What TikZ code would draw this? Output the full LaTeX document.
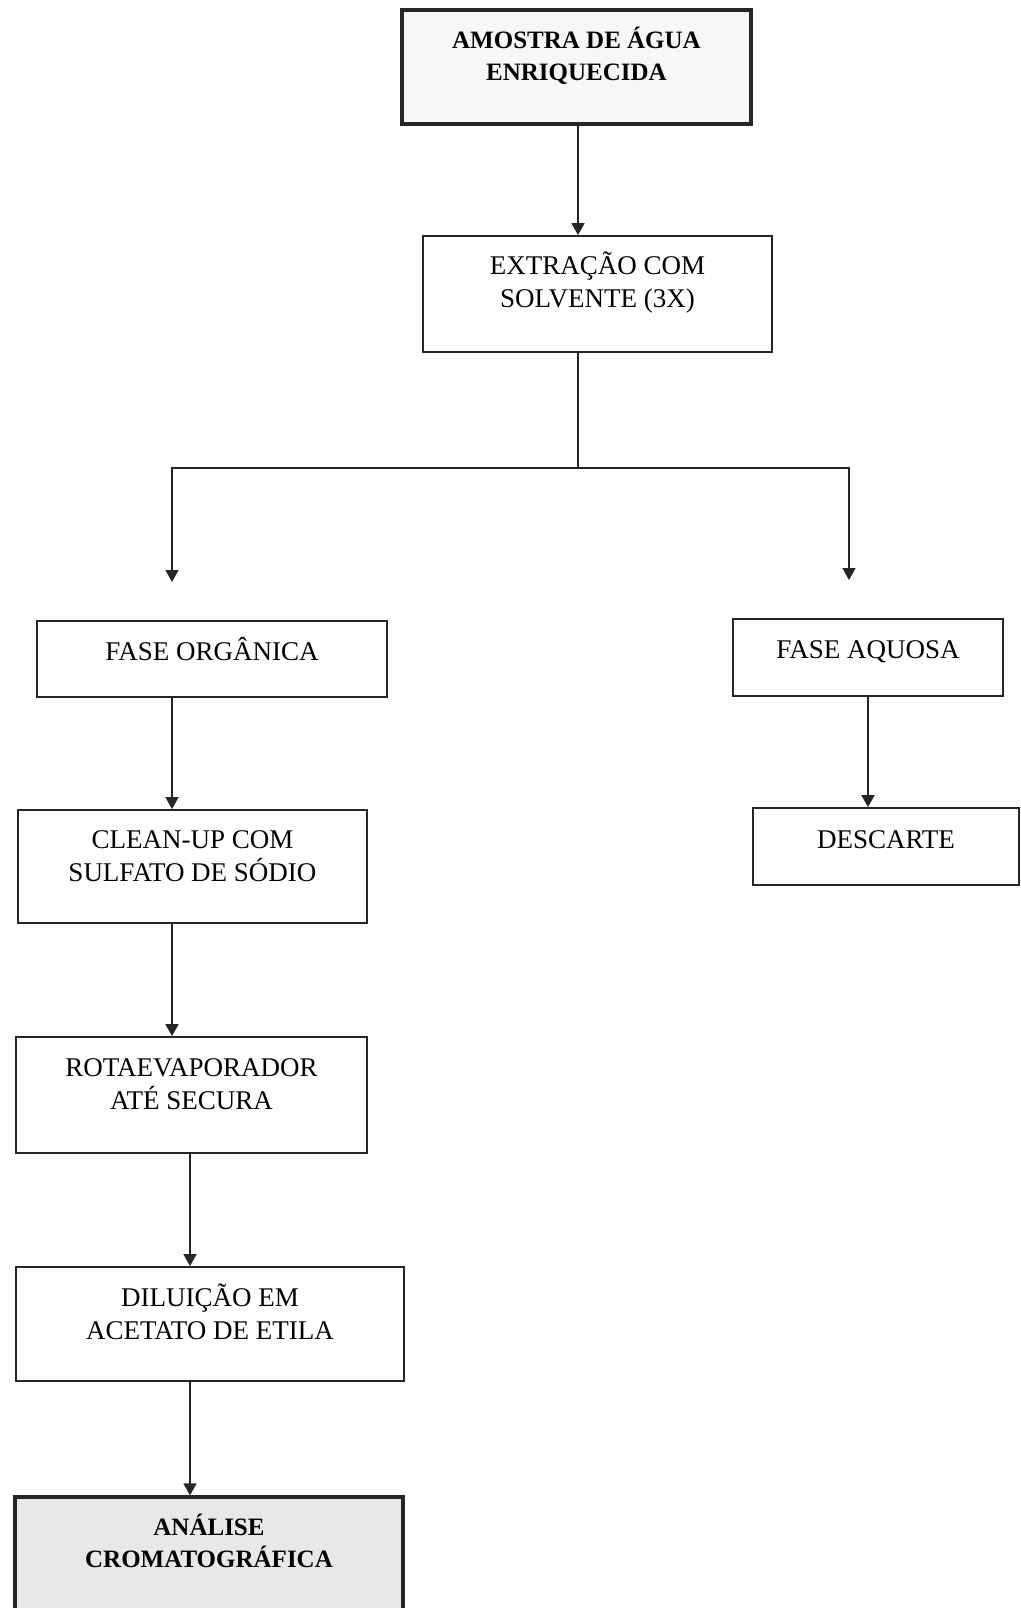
\documentclass[tikz,border=0pt]{standalone}
\usepackage{fontspec}
\setmainfont{Liberation Serif}
\usetikzlibrary{arrows.meta,calc,fit}
\newcommand{\tstr}{\rule{0pt}{14pt}}
\begin{document}
\begin{tikzpicture}[x=0.5pt,y=-0.5pt,
  box/.style={draw=black!85, line width=0.9pt, rectangle, inner sep=0pt},
  keybox/.style={box, line width=1.6pt},
  txt/.style={align=center, inner sep=0pt, anchor=north,
    font=\fontsize{13.5}{16.5}\selectfont},
  keytxt/.style={txt, font=\fontsize{12.5}{16}\selectfont\bfseries},
  conn/.style={draw=black!85, line width=0.8pt},
  arr/.style={conn, -{Triangle[length=6pt,width=6.5pt]}}]
\useasboundingbox (0,0) rectangle (1021,1608);
\clip (0,0) rectangle (1021,1608);

% boxes
\node[keybox, fill=black!3, fit={(402,10) (751,124)}] (amostra) {};
\node[box, fit={(423,236) (772,352)}] (extr) {};
\node[box, fit={(37,621) (387,697)}] (org) {};
\node[box, fit={(733,619) (1003,696)}] (aq) {};
\node[box, fit={(18,810) (367,923)}] (clean) {};
\node[box, fit={(753,808) (1019,885)}] (desc) {};
\node[box, fit={(16,1037) (367,1153)}] (rota) {};
\node[box, fit={(16,1267) (404,1381)}] (dil) {};
\node[keybox, fill=black!9, fit={(15,1497) (403,1630)}] (anal) {};

% texts
\node[keytxt] (amostraT) at ($(amostra.north)+(0,11.5)$) {\tstr AMOSTRA DE ÁGUA\\ENRIQUECIDA};
\node[txt] (extrT) at ($(extr.north)+(0,11)$) {\tstr EXTRAÇÃO COM\\SOLVENTE (3X)};
\node[txt] (orgT) at ($(org.north)+(0,12)$) {\tstr FASE ORGÂNICA};
\node[txt] (aqT) at ($(aq.north)+(0,12)$) {\tstr FASE AQUOSA};
\node[txt] (cleanT) at ($(clean.north)+(0,10.5)$) {\tstr CLEAN-UP COM\\SULFATO DE SÓDIO};
\node[txt] (descT) at ($(desc.north)+(0,12.5)$) {\tstr DESCARTE};
\node[txt] (rotaT) at ($(rota.north)+(0,11.5)$) {\tstr ROTAEVAPORADOR\\ATÉ SECURA};
\node[txt] (dilT) at ($(dil.north)+(0,11.5)$) {\tstr DILUIÇÃO EM\\ACETATO DE ETILA};
\node[keytxt] (analT) at ($(anal.north)+(0,11.5)$) {\tstr ANÁLISE\\CROMATOGRÁFICA};

% connector coordinates
\coordinate (xA) at (578,0);
\coordinate (split) at (578,468);
\coordinate (endL) at (172,582);
\coordinate (endR) at (849,580);
\coordinate (xL) at (172,0);
\coordinate (xD) at (190,0);

% connectors
\draw[arr] (amostra.south -| xA) -- (extr.north -| xA);
\draw[conn] (extr.south -| split) -- (split);
\draw[arr] (split) -| (endL);
\draw[arr] (split) -| (endR);
\draw[arr] (org.south -| xL) -- (clean.north -| xL);
\draw[arr] (aq.south) -- (aq.south |- desc.north);
\draw[arr] (clean.south -| xL) -- (rota.north -| xL);
\draw[arr] (rota.south -| xD) -- (dil.north -| xD);
\draw[arr] (dil.south -| xD) -- (anal.north -| xD);
\end{tikzpicture}
\end{document}
